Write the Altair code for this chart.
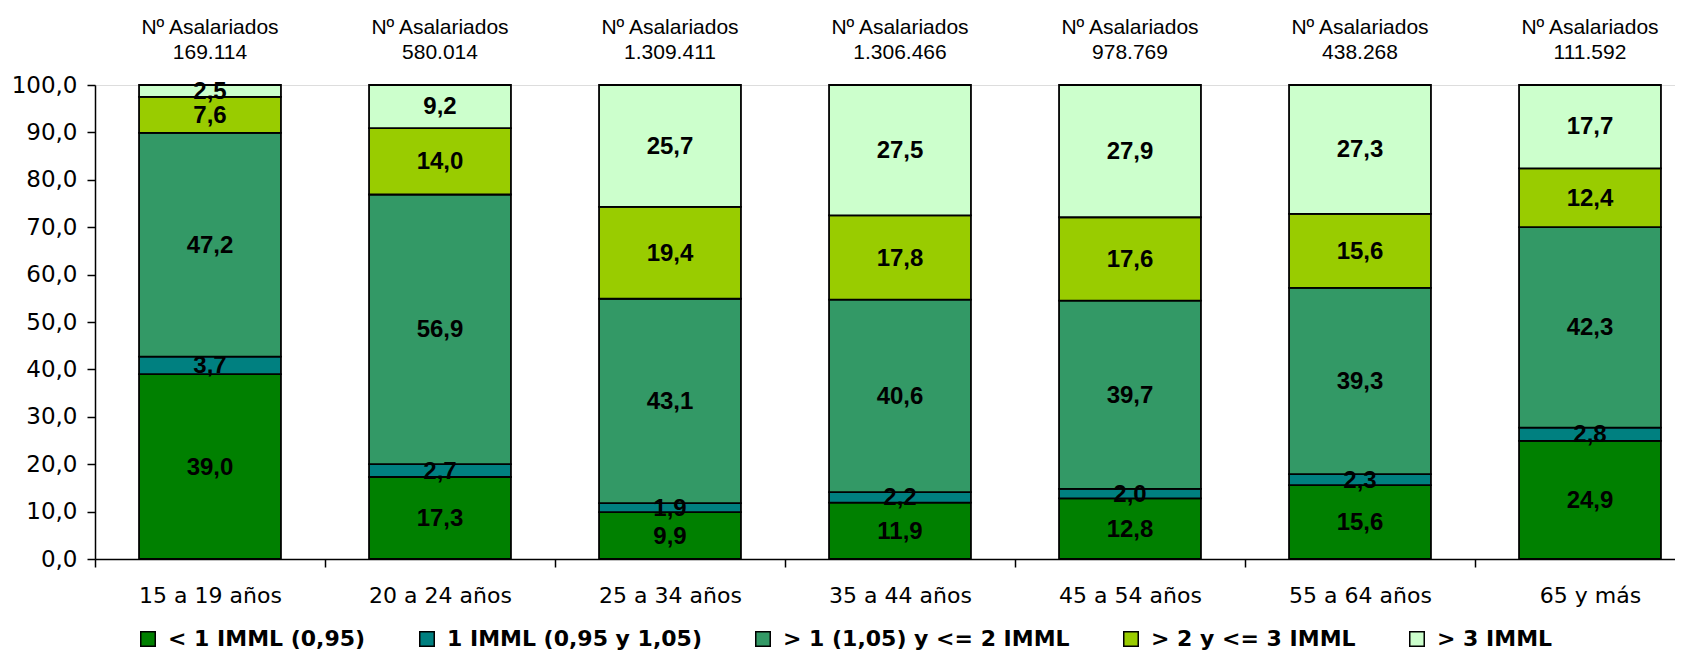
import altair as alt
import pandas as pd

categories = ["15 a 19 años", "20 a 24 años", "25 a 34 años", "35 a 44 años",
              "45 a 54 años", "55 a 64 años", "65 y más"]
asalariados = ["169.114", "580.014", "1.309.411", "1.306.466", "978.769", "438.268", "111.592"]

series_names = ["< 1 IMML (0,95)", "1 IMML (0,95 y 1,05)", "> 1 (1,05) y <= 2 IMML",
                "> 2 y <= 3 IMML", "> 3 IMML"]
series_colors = ["#008000", "#008080", "#339966", "#99CC00", "#CCFFCC"]

s_lt1 = [39.0, 17.3, 9.9, 11.9, 12.8, 15.6, 24.9]
s_eq1 = [3.7, 2.7, 1.9, 2.2, 2.0, 2.3, 2.8]
s_1to2 = [47.2, 56.9, 43.1, 40.6, 39.7, 39.3, 42.3]
s_2to3 = [7.6, 14.0, 19.4, 17.8, 17.6, 15.6, 12.4]
s_gt3 = [2.5, 9.2, 25.7, 27.5, 27.9, 27.3, 17.7]

y_ticks = [0, 10, 20, 30, 40, 50, 60, 70, 80, 90, 100]

all_series = [s_lt1, s_eq1, s_1to2, s_2to3, s_gt3]
rows = []
for si, (name, vals) in enumerate(zip(series_names, all_series)):
    for cat, v in zip(categories, vals):
        rows.append({"cat": cat, "serie": name, "ord": si, "value": v})
df = pd.DataFrame(rows)

hdr = pd.DataFrame({"cat": categories,
                    "txt": ["Nº Asalariados\n" + a for a in asalariados]})

x_scale = alt.Scale(domain=categories, range=[0, 1610], paddingInner=0, paddingOuter=0)
x_enc = alt.X("cat:N", scale=x_scale, sort=categories,
              axis=alt.Axis(title=None, labelAngle=0, tickBand="extent", tickSize=8,
                            tickColor="black", domainColor="black", domainWidth=1.5,
                            tickWidth=1.5, labelFont="DejaVu Sans", labelFontSize=22,
                            labelColor="black", labelPadding=18, labelBaseline="top"))

y_scale = alt.Scale(domain=[0, 100], nice=False, clamp=True)

bars = alt.Chart(df).mark_bar(width={"band": 0.617}, stroke="black", strokeWidth=1.8).encode(
    x=x_enc,
    y=alt.Y("value:Q", stack="zero", scale=y_scale,
            axis=alt.Axis(title=None, values=y_ticks, grid=False, tickSize=8,
                          tickColor="black", tickWidth=1.5, domainColor="black",
                          domainWidth=1.5, labelFont="DejaVu Sans", labelFontSize=23,
                          labelColor="black", labelPadding=10,
                          labelExpr="replace(format(datum.value, '.1f'), '.', ',')")),
    color=alt.Color("serie:N", scale=alt.Scale(domain=series_names, range=series_colors),
                    legend=alt.Legend(title=None, orient="none", legendX=42, legendY=543,
                                      direction="horizontal", columns=5,
                                      symbolType="square", symbolSize=210,
                                      symbolStrokeColor="black", symbolStrokeWidth=1.5,
                                      labelFont="DejaVu Sans", labelFontWeight="bold",
                                      labelFontSize=22, labelColor="black",
                                      labelOffset=9, columnPadding=50, padding=0,
                                      labelLimit=0)),
    order=alt.Order("ord:Q"),
)

labels = alt.Chart(df).transform_window(
    cum="sum(value)", groupby=["cat"], sort=[alt.SortField("ord")]
).transform_calculate(
    mid="datum.cum - datum.value / 2",
    lab="replace(format(datum.value, '.1f'), '.', ',')",
).mark_text(font="Liberation Sans", fontWeight="bold", fontSize=24, color="black",
            baseline="middle", dy=1).encode(
    x=alt.X("cat:N", scale=x_scale, sort=categories),
    y=alt.Y("mid:Q", scale=y_scale),
    text="lab:N",
)

headers = alt.Chart(hdr).mark_text(font="Liberation Sans", fontSize=21, color="black",
                                   baseline="alphabetic", lineBreak="\n",
                                   lineHeight=25).encode(
    x=alt.X("cat:N", scale=x_scale, sort=categories),
    y=alt.value(-51),
    text="txt:N",
)

chart = alt.layer(bars, labels, headers).properties(
    width=1580, height=474,
    autosize=alt.AutoSizeParams(type="none"),
    padding={"left": 87, "top": 77, "right": 0, "bottom": 95},
).configure_view(stroke=None).configure(background="white")

chart.save("out.html", embed_options={"renderer": "svg", "actions": False})
